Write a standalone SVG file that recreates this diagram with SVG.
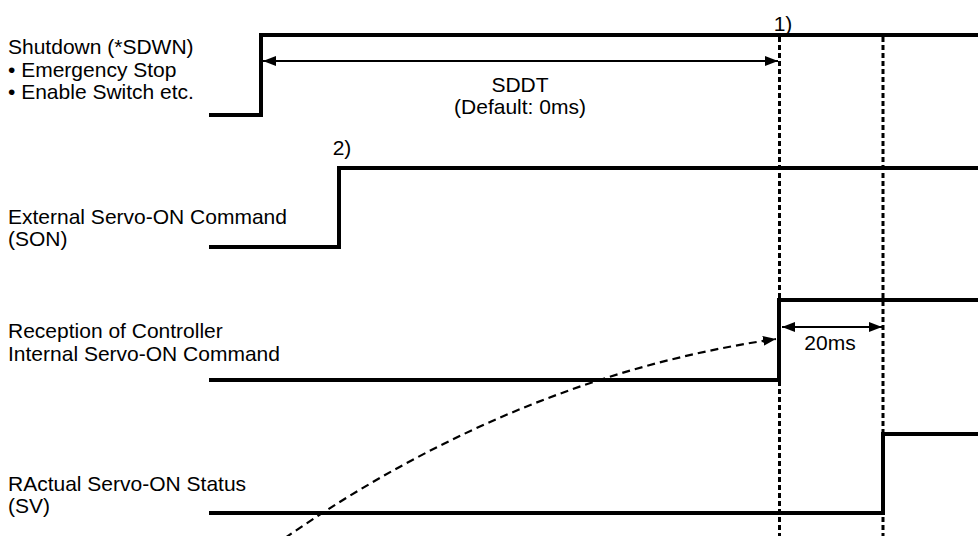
<svg xmlns="http://www.w3.org/2000/svg" width="978" height="536" viewBox="0 0 978 536">
  <defs>
    <style>
      text { font-family: "Liberation Sans", Arial, sans-serif; font-size: 21px; fill: #000; }
      .mid { text-anchor: middle; }
      .sig { fill: none; stroke: #000; stroke-width: 4; stroke-linejoin: miter; stroke-linecap: butt; }
      .guide { fill: none; stroke: #000; stroke-width: 3; stroke-dasharray: 5 3; }
      .dim { fill: none; stroke: #000; stroke-width: 1.8; }
      .curve { fill: none; stroke: #000; stroke-width: 2.2; stroke-dasharray: 8 5; }
    </style>
    <marker id="ah" markerUnits="userSpaceOnUse" markerWidth="14" markerHeight="12" refX="13" refY="5" orient="auto-start-reverse" viewBox="0 0 14 10">
      <path d="M0,0 L13,5 L0,10 z" fill="#000"/>
    </marker>
  </defs>
  <rect width="978" height="536" fill="#fff"/>

  <g id="guides">
    <line class="guide" x1="779.5" y1="37" x2="779.5" y2="536"/>
    <line class="guide" x1="883" y1="37" x2="883" y2="536"/>
  </g>

  <g id="sig-sdwn">
    <path class="sig" d="M209 115 H261 V35 H978"/>
    <text x="8" y="54">Shutdown (*SDWN)</text>
    <text x="8" y="77">• Emergency Stop</text>
    <text x="8" y="99">• Enable Switch etc.</text>
    <text class="mid" x="783" y="31">1)</text>
  </g>

  <g id="sig-son">
    <path class="sig" d="M209 247 H339 V168 H978"/>
    <text x="8" y="224">External Servo-ON Command</text>
    <text x="8" y="246">(SON)</text>
    <text class="mid" x="342" y="155">2)</text>
  </g>

  <g id="sig-internal">
    <path class="sig" d="M209 380 H779 V300 H978"/>
    <text x="8" y="338">Reception of Controller</text>
    <text x="8" y="361">Internal Servo-ON Command</text>
  </g>

  <g id="sig-sv">
    <path class="sig" d="M209 513 H883 V434 H978"/>
    <text x="8" y="491">RActual Servo-ON Status</text>
    <text x="8" y="513">(SV)</text>
  </g>

  <g id="connectors">
    <line class="dim" x1="263" y1="61" x2="778" y2="61" marker-start="url(#ah)" marker-end="url(#ah)"/>
    <line class="dim" x1="782" y1="327" x2="882" y2="327" marker-start="url(#ah)" marker-end="url(#ah)"/>
    <path class="curve" d="M285 538 Q519 376 776 339" marker-end="url(#ah)"/>
  </g>

  <g id="labels">
    <text class="mid" x="520" y="92">SDDT</text>
    <text class="mid" x="520" y="114">(Default: 0ms)</text>
    <text class="mid" x="830" y="350">20ms</text>
  </g>
</svg>
